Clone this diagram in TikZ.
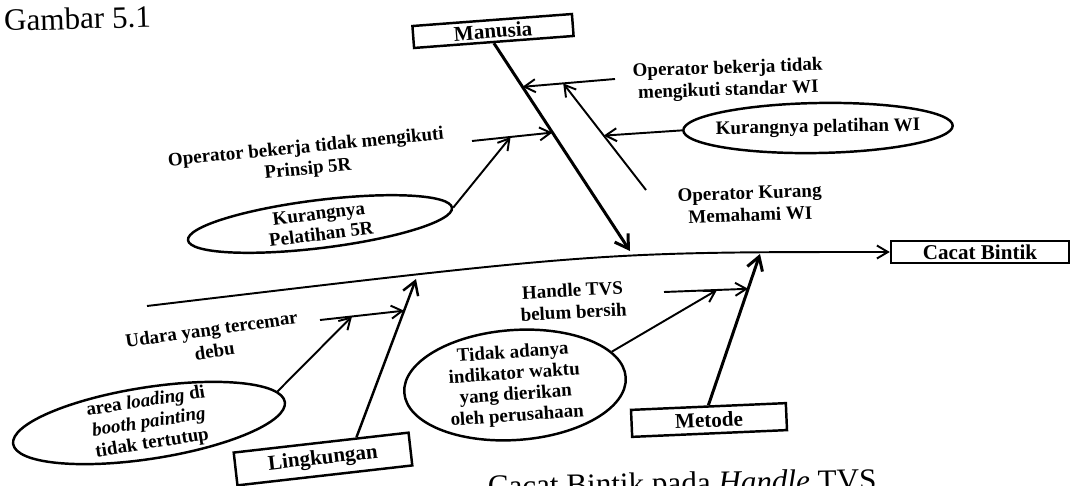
\documentclass[tikz,border=0pt]{standalone}
\usepackage{fontspec}
\setmainfont{Liberation Serif}
\usetikzlibrary{arrows.meta,shapes.geometric,calc}
\tikzstyle{cause box}=[
        draw,
        line width = 1.4pt,
        fill = white,
        inner sep = 0pt,
        font = \fontsize{12}{14}\selectfont\bfseries
    ]
\tikzstyle{cause oval}=[
        draw,
        ellipse,
        line width = 1.4pt,
        inner sep = 0pt,
        align = center,
        font = \fontsize{10.8}{12}\selectfont\bfseries
    ]
\tikzstyle{cause text}=[
        align = center,
        inner sep = 1pt,
        font = \fontsize{10.8}{12.5}\selectfont\bfseries
    ]

\begin{document}
\begin{tikzpicture}[x=0.02cm, y=-0.02cm,
        bone/.style = {line width=1.7pt, -{Straight Barb[length=2.6mm,width=3.2mm]}},
        sub arrow/.style = {line width=1.1pt, -{Straight Barb[length=2.2mm,width=2.6mm]}}]
        \useasboundingbox (0,0) rectangle (1071,486);

        % judul
        \node[anchor=base west, inner sep=0pt, rotate=1.5, font=\fontsize{17.7}{20}\selectfont] (gambar) at (4,31) {Gambar 5.1};
        \node[anchor=base east, inner sep=0pt, rotate=1, font=\fontsize{17.7}{20}\selectfont] (judul) at (877,490) {Cacat Bintik pada \textit{Handle} TVS};

        % kategori dan akibat
        \node[cause box, minimum width=3.2cm, minimum height=0.44cm, rotate=4.3] (manusia) at (493,31) {Manusia};
        \node[cause box, minimum width=3.52cm, minimum height=0.66cm, rotate=6.5] (lingkungan) at (323,459) {Lingkungan};
        \node[cause box, minimum width=3.1cm, minimum height=0.54cm, rotate=2.5] (metode) at (709,420) {Metode};
        \node[cause box, minimum width=3.56cm, minimum height=0.44cm] (cacat) at (980,252) {Cacat Bintik};

        % tulang utama
        \coordinate (ekor) at (147,306);
        \draw[sub arrow] (ekor) .. controls (600,252) .. (cacat.west);

        % Manusia
        \coordinate (mtip) at (630,251);
        \draw[bone] (manusia.south) -- (mtip);
        \coordinate (wi0) at (615,79);
        \coordinate (wi1) at ($(manusia.south)!0.21!(mtip)$);
        \draw[sub arrow] (wi0) -- (wi1);
        \node[cause text, rotate=2] (standarwi) at (728,80) {Operator bekerja tidak\\mengikuti standar WI};
        \coordinate (km0) at (646,190);
        \coordinate (km1) at ($(wi0)!0.56!(wi1)$);
        \draw[sub arrow] (km0) -- (km1);
        \node[cause text, rotate=2] (memahamiwi) at (750,204) {Operator Kurang\\Memahami WI};
        \node[cause oval, minimum width=5.28cm, minimum height=1cm, inner xsep=-4pt, rotate=1] (pelatihanwi) at (818,128) {Kurangnya pelatihan WI};
        \draw[sub arrow] (pelatihanwi.west) -- ($(km0)!0.51!(km1)$);
        \coordinate (p5r0) at (472,141);
        \coordinate (p5r1) at ($(manusia.south)!0.43!(mtip)$);
        \draw[sub arrow] (p5r0) -- (p5r1);
        \node[cause text, rotate=5.6] (prinsip) at (307,159) {Operator bekerja tidak mengikuti\\Prinsip 5R};
        \node[cause oval, minimum width=5.32cm, minimum height=0.96cm, inner ysep=-2pt, rotate=7] (pelatihan5r) at (320,224) {Kurangnya\\Pelatihan 5R};
        \draw[sub arrow] (pelatihan5r.east) -- ($(p5r0)!0.48!(p5r1)$);

        % Lingkungan
        \coordinate (ltip) at (416,279);
        \coordinate (lpangkal) at ($(lingkungan.north)!0.4!(lingkungan.north east)$);
        \draw[bone, line width=1.4pt] (lpangkal) -- (ltip);
        \coordinate (ud0) at (320,320);
        \coordinate (ud1) at ($(lpangkal)!0.8!(ltip)$);
        \draw[sub arrow] (ud0) -- (ud1);
        \node[cause text, rotate=8] (udara) at (213,340) {Udara yang tercemar\\debu};
        \node[cause oval, minimum width=5.5cm, minimum height=1.4cm, inner ysep=-2.5pt, rotate=8.8] (loading) at (149,423) {area \textit{loading} di\\\textit{booth painting}\\tidak tertutup};
        \draw[sub arrow] (loading.5) -- ($(ud0)!0.38!(ud1)$);

        % Metode
        \coordinate (mttip) at (760,254);
        \draw[bone] (metode.north) -- (mttip);
        \coordinate (hd0) at (664,292);
        \coordinate (hd1) at ($(metode.north)!0.77!(mttip)$);
        \draw[sub arrow] (hd0) -- (hd1);
        \node[cause text, rotate=3] (handle) at (573,301) {Handle TVS\\belum bersih};
        \node[cause oval, minimum width=4.44cm, minimum height=2.2cm, inner ysep=-1.5pt, rotate=4] (indikator) at (515,385) {Tidak adanya\\indikator waktu\\yang dierikan\\oleh perusahaan};
        \draw[sub arrow] (indikator.15) -- ($(hd0)!0.63!(hd1)$);
    \end{tikzpicture}
\end{document}
